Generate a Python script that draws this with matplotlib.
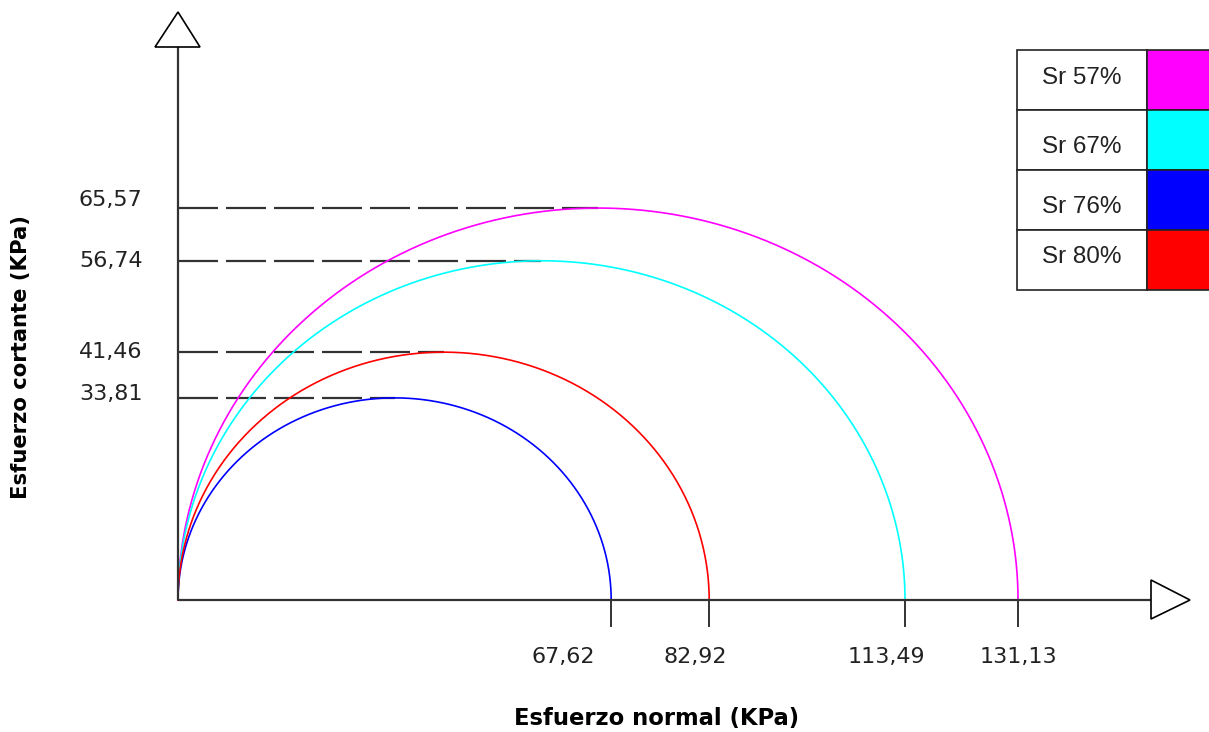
import numpy as np
import matplotlib
matplotlib.use("Agg")
import matplotlib.pyplot as plt
from matplotlib.patches import Polygon, Rectangle

# Mohr circle data: major principal stress (diameter) and peak shear stress
series_labels = ["Sr 57%", "Sr 67%", "Sr 76%", "Sr 80%"]
sigma_max = [131.13, 113.49, 67.62, 82.92]
tau_max = [65.57, 56.74, 33.81, 41.46]
series_colors = ["#FF00FF", "#00FFFF", "#0000FF", "#FF0000"]

x_tick_values = [67.62, 82.92, 113.49, 131.13]
x_tick_labels = ["67,62", "82,92", "113,49", "131,13"]
y_tick_values = [65.57, 56.74, 41.46, 33.81]
y_tick_labels = ["65,57", "56,74", "41,46", "33,81"]

W, H = 1209, 732
fig = plt.figure(figsize=(W / 100, H / 100), dpi=100)
ax = fig.add_axes([0, 0, 1, 1])
ax.set_axis_off()

# pixel layout of the plotting frame
ox, oy = 178, 600          # origin in pixels
sx, sy = 6.406, 5.978      # pixels per kPa on each axis
ax.set_xlim(-ox / sx, (W - ox) / sx)
ax.set_ylim(-(H - oy) / sy, oy / sy)


def px(p):
    return (p - ox) / sx


def py(p):
    return (oy - p) / sy


axis_color = "#333333"

# dashed guide lines at the peak shear values
for t in tau_max:
    ax.plot([0, t], [t, t], color=axis_color, lw=1.6,
            dashes=(18, 3.6), zorder=2, solid_capstyle="butt",
            dash_capstyle="butt")

# semicircles
for d, t, c in zip(sigma_max, tau_max, series_colors):
    r = d / 2.0
    theta = np.linspace(np.pi, 0, 400)
    xs = r + r * np.cos(theta)
    ys = r * np.sin(theta)
    ax.plot(xs, ys, color=c, lw=1.2, zorder=3)

# axes with open triangular arrow heads
ax.plot([0, 0], [0, py(47)], color=axis_color, lw=1.6, zorder=4,
        solid_capstyle="butt")
ax.plot([0, px(1151)], [0, 0], color=axis_color, lw=1.6, zorder=4,
        solid_capstyle="butt")
ax.add_patch(Polygon([[px(155), py(47)], [px(200), py(47)], [px(178), py(12)]],
                     closed=True, facecolor="white", edgecolor="black",
                     lw=1.2, zorder=5))
ax.add_patch(Polygon([[px(1151), py(580)], [px(1151), py(619)], [px(1190), py(600)]],
                     closed=True, facecolor="white", edgecolor="black",
                     lw=1.2, zorder=5))

# tick marks below the normal stress axis
for v in x_tick_values:
    ax.plot([v, v], [0, py(627)], color=axis_color, lw=1.4, zorder=4,
            solid_capstyle="butt")

# tick labels
label_centers_px = [563, 695, 886, 1018]
for lab, cx in zip(x_tick_labels, label_centers_px):
    ax.text(px(cx), py(657), lab, ha="center", va="center",
            fontsize=16, family="DejaVu Sans", color="#222222")
label_y_offsets = [-8, 0, 0, -4]
for v, lab, off in zip(y_tick_values, y_tick_labels, label_y_offsets):
    ax.text(px(79), v - off / sy, lab, ha="left", va="center",
            fontsize=16, family="DejaVu Sans", color="#222222")

# axis titles
ax.text(px(657), py(718), "Esfuerzo normal (KPa)", ha="center", va="center",
        fontsize=16.3, fontweight="bold", family="DejaVu Sans", color="black")
ax.text(px(21), py(357), "Esfuerzo cortante (KPa)", ha="center", va="center",
        rotation=90, fontsize=15.2, fontweight="bold", family="DejaVu Sans",
        color="black")

# legend table at the upper right
row_tops = [50, 110, 170, 230]
row_h = 60
text_y = [78, 147, 207, 257]
for lab, c, top, ty in zip(series_labels, series_colors, row_tops, text_y):
    ax.add_patch(Rectangle((px(1017), py(top + row_h)), 130 / sx, row_h / sy,
                           facecolor="white", edgecolor="#222222", lw=1.2,
                           zorder=6, clip_on=False))
    ax.add_patch(Rectangle((px(1147), py(top + row_h)), 70 / sx, row_h / sy,
                           facecolor=c, edgecolor="#222222", lw=1.2,
                           zorder=6, clip_on=False))
    ax.text(px(1082), py(ty), lab, ha="center", va="center", fontsize=17.5,
            family="Liberation Sans", color="#222222", zorder=7)

fig.savefig("out.png", dpi=100, facecolor="white")
